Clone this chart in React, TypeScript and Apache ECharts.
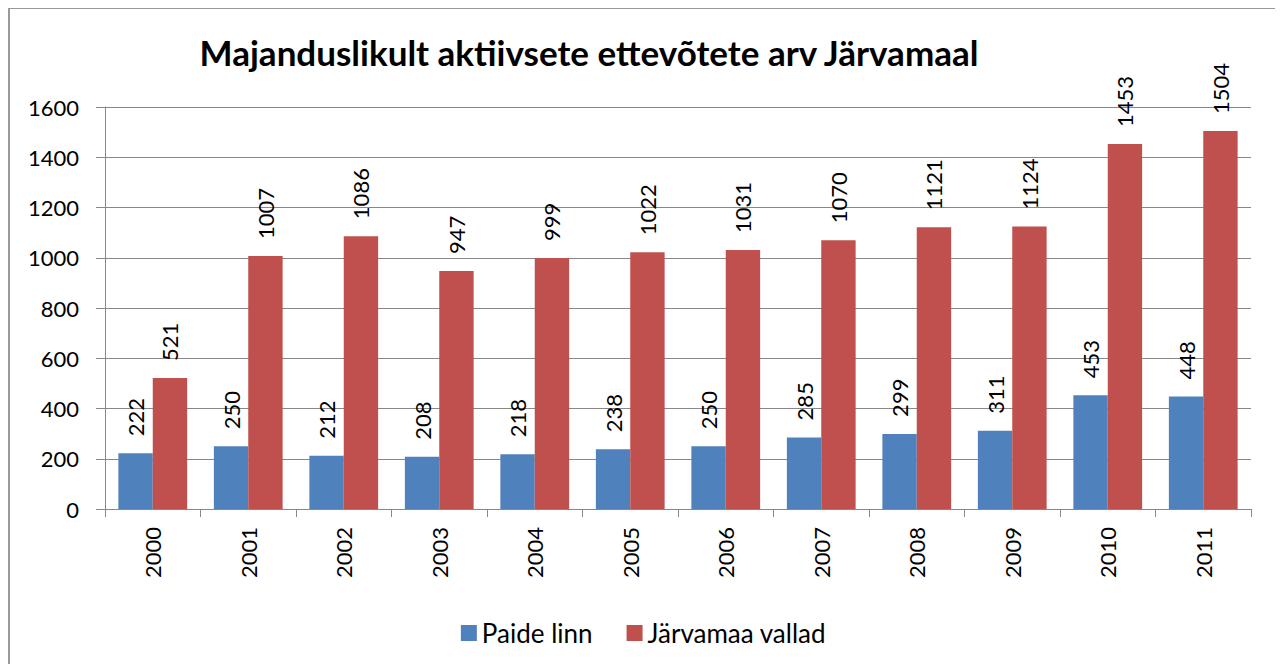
import React, { useEffect, useRef } from "react";
import * as echarts from "echarts";

const titleText = "Majanduslikult aktiivsete ettevõtete arv Järvamaal";
const years = ["2000", "2001", "2002", "2003", "2004", "2005", "2006", "2007", "2008", "2009", "2010", "2011"];
const paideLinn = [222, 250, 212, 208, 218, 238, 250, 285, 299, 311, 453, 448];
const jarvamaaVallad = [521, 1007, 1086, 947, 999, 1022, 1031, 1070, 1121, 1124, 1453, 1504];
const seriesNames = ["Paide linn", "Järvamaa vallad"];

const FONT = "Lato, 'Open Sans', sans-serif";

export default function App() {
  const ref = useRef<HTMLDivElement>(null);
  useEffect(() => {
    if (!ref.current) return;
    const chart = echarts.init(ref.current, undefined, { renderer: "svg" });
    const label = {
      show: true,
      position: "top",
      rotate: 90,
      align: "left",
      verticalAlign: "middle",
      distance: 17,
      fontSize: 22,
      color: "#000",
      fontFamily: FONT,
    };
    chart.setOption({
      animation: false,
      backgroundColor: "#fff",
      title: {
        text: titleText,
        left: 574,
        top: 20,
        textAlign: "center",
        textStyle: { fontFamily: FONT, fontWeight: "bold", fontSize: 35, color: "#000" },
      },
      legend: {
        data: seriesNames,
        top: 606,
        left: "center",
        itemWidth: 16,
        itemHeight: 16,
        itemGap: 34,
        icon: "rect",
        textStyle: { fontFamily: FONT, fontSize: 26, color: "#000" },
      },
      grid: { left: 95, right: 26, top: 98, bottom: 155, containLabel: false },
      xAxis: {
        type: "category",
        data: years,
        axisLine: { lineStyle: { color: "#888", width: 1 } },
        axisTick: { show: true, length: 8, interval: 0, lineStyle: { color: "#888" } },
        axisLabel: { rotate: 90, fontSize: 22, color: "#000", fontFamily: FONT, margin: 18, interval: 0 },
      },
      yAxis: {
        type: "value",
        min: 0,
        max: 1600,
        interval: 200,
        axisLine: { show: true, lineStyle: { color: "#888" } },
        axisTick: { show: true, length: 9, lineStyle: { color: "#888" } },
        splitLine: { lineStyle: { color: "#888", width: 1 } },
        axisLabel: { fontSize: 22, color: "#000", fontFamily: FONT, margin: 26, formatter: (v: number) => String(v) },
      },
      series: [
        {
          name: seriesNames[0],
          type: "bar",
          data: paideLinn,
          itemStyle: { color: "#4F81BD" },
          barGap: "0%",
          barCategoryGap: "28%",
          label,
        },
        {
          name: seriesNames[1],
          type: "bar",
          data: jarvamaaVallad,
          itemStyle: { color: "#C0504D" },
          label,
        },
      ],
    });
    return () => chart.dispose();
  }, []);
  return (
    <div
      style={{
        width: 1271,
        height: 657,
        boxSizing: "border-box",
        borderTop: "2px solid #999",
        borderLeft: "2px solid #999",
        borderRight: "2px solid #999",
        marginTop: -1,
      }}
    >
      <div ref={ref} style={{ width: 1267, height: 655 }} />
    </div>
  );
}
